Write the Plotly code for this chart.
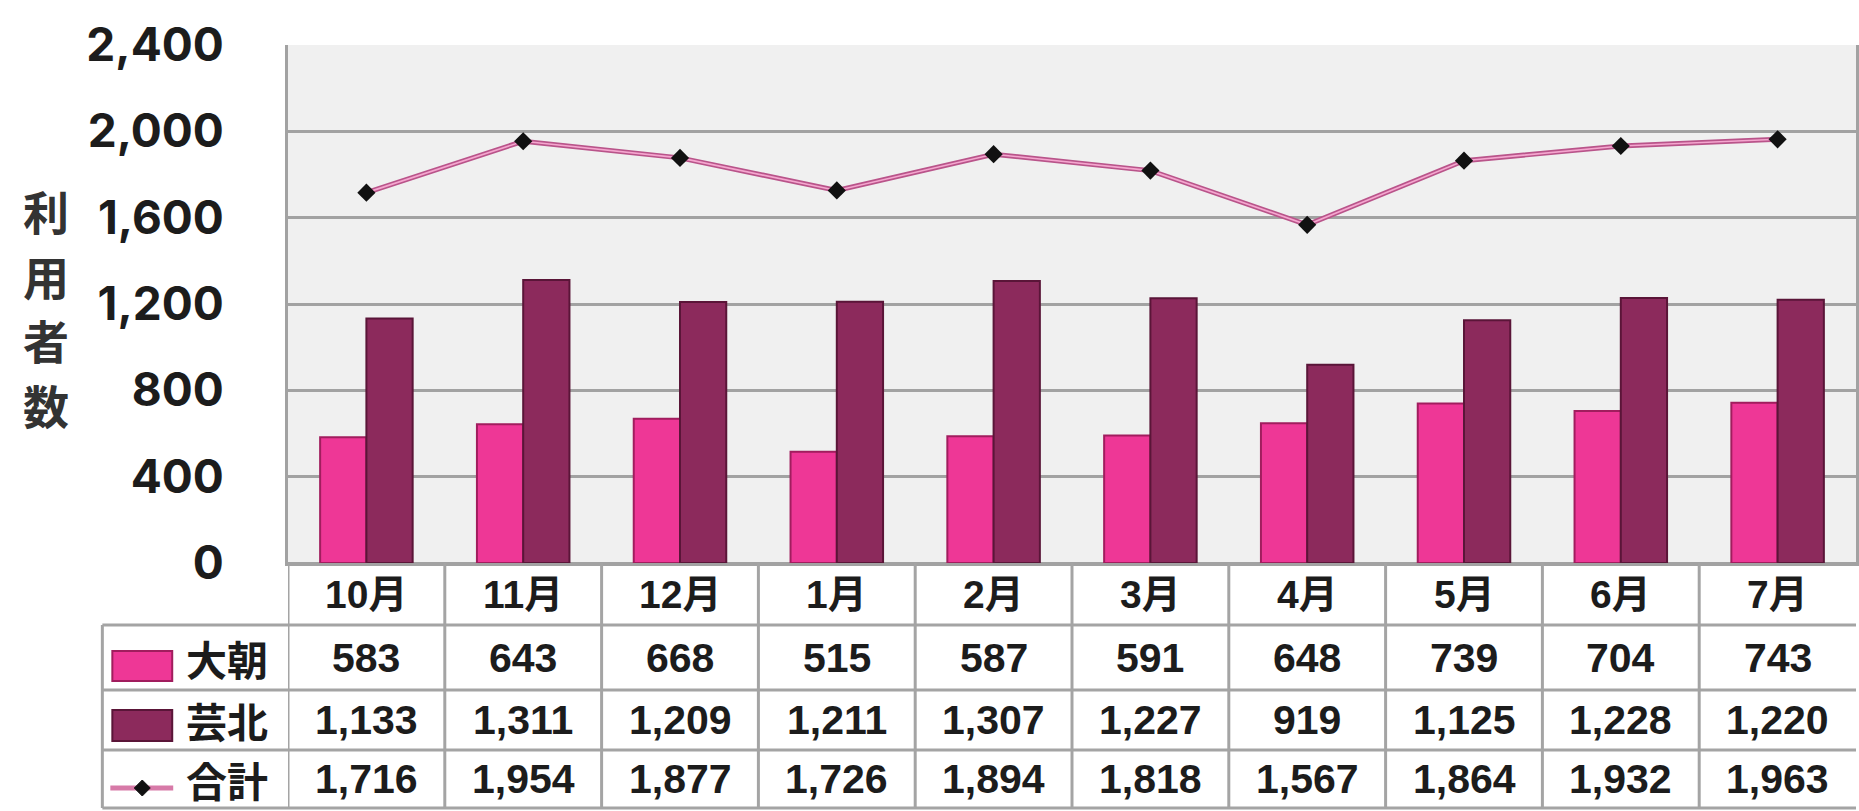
import plotly.graph_objects as go

# ---- data ----
months = ["10月", "11月", "12月", "1月", "2月", "3月", "4月", "5月", "6月", "7月"]
oasa = [583, 643, 668, 515, 587, 591, 648, 739, 704, 743]          # 大朝
geihoku = [1133, 1311, 1209, 1211, 1307, 1227, 919, 1125, 1228, 1220]  # 芸北
total = [1716, 1954, 1877, 1726, 1894, 1818, 1567, 1864, 1932, 1963]   # 合計
series_names = ["大朝", "芸北", "合計"]
y_ticks = [0, 400, 800, 1200, 1600, 2000, 2400]
y_title = "利用者数"

# ---- layout geometry (pixels) ----
W, H = 1859, 811
L, T, B = 288, 45, 563


def py(p):
    return (B - p) / (B - T)


def px(p):
    return (p - L) / (W - L)


PINK = "#ee3796"
PINK_EDGE = "#a11d5e"
MAROON = "#8c2a5c"
MAROON_EDGE = "#5a1538"
GRID = "#a2a2a2"
TXT = "#1c1c1c"
FONT = "Liberation Sans, Noto Sans CJK JP, sans-serif"

fig = go.Figure()
fig.add_trace(go.Bar(x=months, y=oasa, name=series_names[0],
                     marker=dict(color=PINK, line=dict(color=PINK_EDGE, width=2))))
fig.add_trace(go.Bar(x=months, y=geihoku, name=series_names[1],
                     marker=dict(color=MAROON, line=dict(color=MAROON_EDGE, width=2))))
fig.add_trace(go.Scatter(x=months, y=total, mode="lines", name=series_names[2],
                         line=dict(color="#b9548a", width=5), showlegend=False))
fig.add_trace(go.Scatter(x=months, y=total, mode="lines+markers", name=series_names[2],
                         line=dict(color="#f5a6cf", width=1.6),
                         marker=dict(symbol="diamond", size=14, color="#111111"),
                         showlegend=False))

# ---- table rows (pixel bounds) ----
row_header = (563, 625)
rows = [(625, 690), (690, 750), (750, 808)]
table_left = 102

shapes = []
line_style = dict(color="#a4a4a4", width=3)
for yy in [625, 690, 750, 808]:
    shapes.append(dict(type="line", xref="paper", yref="paper",
                       x0=px(table_left), x1=1, y0=py(yy), y1=py(yy), line=line_style))
shapes.append(dict(type="line", xref="paper", yref="paper", x0=px(table_left), x1=px(table_left),
                   y0=py(625), y1=py(808), line=line_style))
for i in range(len(months)):
    xb = i - 0.5
    shapes.append(dict(type="line", xref="x", yref="paper", x0=xb, x1=xb,
                       y0=py(563), y1=py(808), line=line_style))

# legend symbols in table
shapes.append(dict(type="rect", xref="paper", yref="paper", x0=px(112), x1=px(172),
                   y0=py(681), y1=py(651), fillcolor=PINK, line=dict(color=PINK_EDGE, width=2)))
shapes.append(dict(type="rect", xref="paper", yref="paper", x0=px(112), x1=px(172),
                   y0=py(741), y1=py(710), fillcolor=MAROON, line=dict(color=MAROON_EDGE, width=2)))
shapes.append(dict(type="line", xref="paper", yref="paper", x0=px(110), x1=px(173),
                   y0=py(788), y1=py(788), line=dict(color="#d77aa8", width=5)))
cx, cy, d = 142, 788, 8
shapes.append(dict(type="path", xref="paper", yref="paper",
                   path=f"M {px(cx-d)} {py(cy)} L {px(cx)} {py(cy-d)} L {px(cx+d)} {py(cy)} L {px(cx)} {py(cy+d)} Z",
                   fillcolor="#111111", line=dict(color="#111111", width=1)))

annotations = []
hy = py(sum(row_header) / 2)
for m in months:
    annotations.append(dict(x=m, xref="x", y=hy, yref="paper", text=m, showarrow=False,
                            xanchor="center", yanchor="middle",
                            font=dict(family=FONT, size=39, color=TXT, weight="bold")))
for (r0, r1), vals, nm in zip(rows, [oasa, geihoku, total], series_names):
    ry = py((r0 + r1) / 2)
    for m, v in zip(months, vals):
        annotations.append(dict(x=m, xref="x", y=ry, yref="paper", text=f"{v:,}", showarrow=False,
                                xanchor="center", yanchor="middle",
                                font=dict(family=FONT, size=41, color=TXT, weight="bold")))
    annotations.append(dict(x=px(184), xref="paper", y=ry, yref="paper", text=nm, showarrow=False,
                            xanchor="left", yanchor="middle",
                            font=dict(family="Noto Sans CJK JP", size=41, color=TXT, weight="bold")))

# vertical axis title, one character per line
for k, ch in enumerate(y_title):
    annotations.append(dict(x=px(46), xref="paper", y=py(210 + 64.5 * k), yref="paper",
                            text=ch, showarrow=False, xanchor="center", yanchor="middle",
                            font=dict(family="Noto Sans CJK JP", size=46, color="#333333", weight="bold")))

fig.update_layout(
    width=W, height=H,
    margin=dict(l=L, r=0, t=T, b=H - B, pad=0),
    paper_bgcolor="white", plot_bgcolor="#f0f0f0",
    barmode="group", bargap=0.41, bargroupgap=0,
    showlegend=False,
    shapes=shapes, annotations=annotations,
    font=dict(family=FONT, color=TXT),
)
fig.update_xaxes(showticklabels=False, showgrid=False, showline=True, linecolor=GRID, linewidth=3,
                 mirror=False, ticks="", range=[-0.5, len(months) - 0.5])
fig.update_yaxes(range=[0, 2400], tickvals=y_ticks, tickformat=",d",
                 showgrid=True, gridcolor=GRID, gridwidth=3,
                 showline=True, linecolor=GRID, linewidth=3, mirror=True,
                 zeroline=True, zerolinecolor=GRID, zerolinewidth=3,
                 ticks="outside", ticklen=0, ticklabelstandoff=52,
                 tickfont=dict(family="Inter, Liberation Sans, sans-serif", size=46, color=TXT, weight="bold"))

fig.write_html("out.html")
